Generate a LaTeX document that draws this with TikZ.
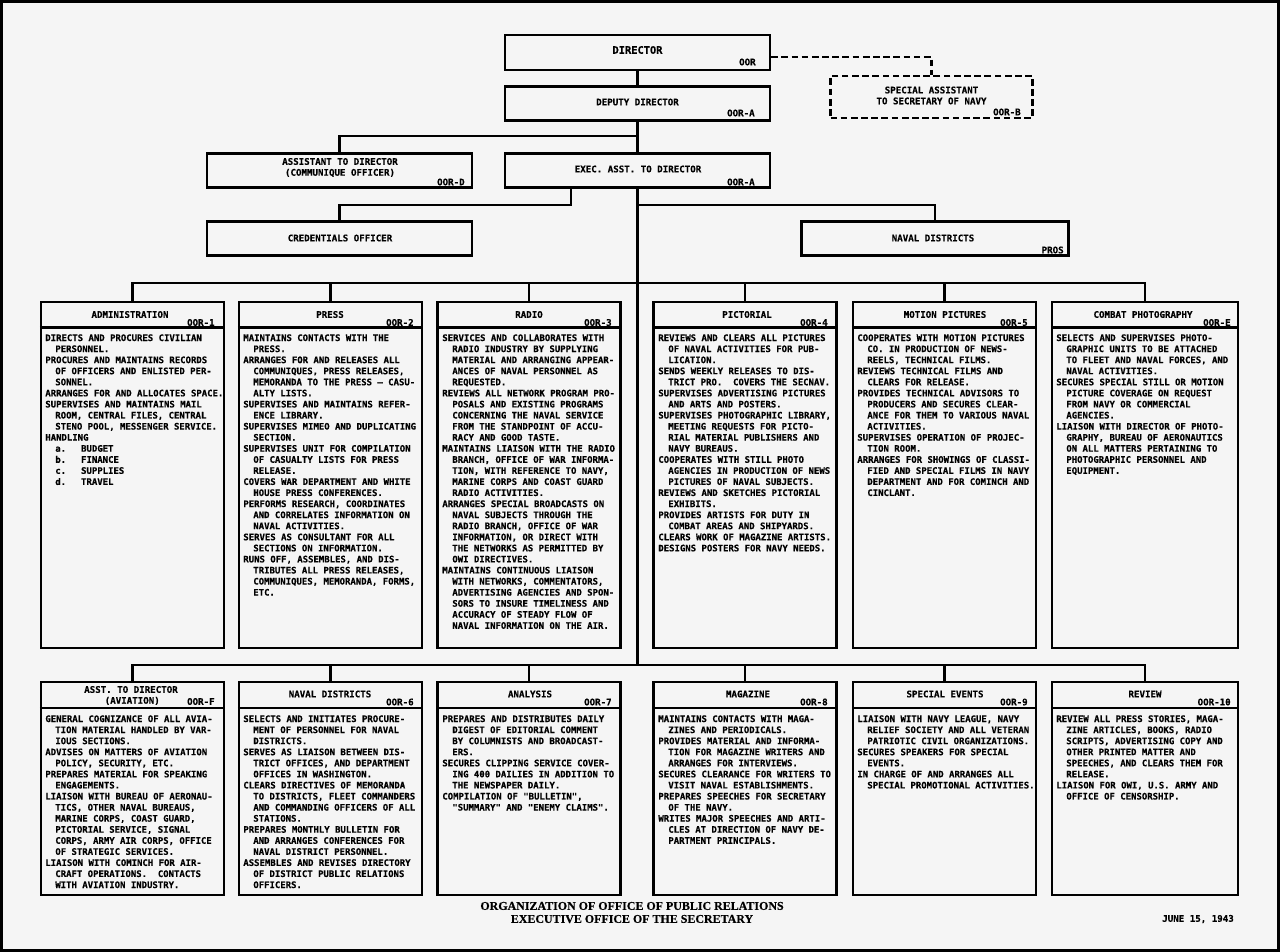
\documentclass[tikz,border=0pt]{standalone}
\usepackage{fontspec}
\usetikzlibrary{arrows.meta}
\newfontfamily\letterfont{DejaVu Sans Mono}[BoldFeatures={FakeBold=0.4}]
\newfontfamily\captfont{Liberation Serif}[BoldFeatures={FakeBold=0.5}]
\newcommand{\bodyfont}{\letterfont\bfseries\fontsize{5.1}{6.3}\selectfont}
\newcommand{\headfont}{\letterfont\bfseries\fontsize{5.2}{6.2}\selectfont}
\newcommand{\bigheadfont}{\letterfont\bfseries\fontsize{5.9}{7}\selectfont}
\newcommand{\contline}{\hspace*{0.2cm}}
\definecolor{paper}{RGB}{245,245,245}

\begin{document}
\begin{tikzpicture}[x=0.02cm,y=-0.02cm,line join=miter,
  unit/.style={draw,line width=1.3pt,inner sep=0pt},
  section/.style={unit,minimum width=3.66cm,minimum height=6.92cm},
  lowsection/.style={unit,minimum width=3.66cm,minimum height=4.26cm},
  topbox/.style={unit,minimum width=5.3cm,minimum height=0.68cm},
  conn/.style={line width=1.3pt},
  dconn/.style={line width=1.3pt,dash pattern=on 3.8pt off 2pt},
  head/.style={font=\headfont,inner sep=0pt,align=center},
  code/.style={font=\headfont,inner sep=0pt,anchor=east},
  body/.style={font=\bodyfont,inner sep=0pt,anchor=north west,align=left}]
%%
\useasboundingbox (0,0) rectangle (1280,952);
\fill[paper] (0,0) rectangle (1280,952);
\draw[line width=0.06cm] (1.5,1.5) rectangle (1278.5,950.5);
%
\node (node_director) at (637.5,52.5) [unit,minimum width=5.3cm,minimum height=0.7cm] {};
\node (title_director) at (637.5,50) [head,font=\bigheadfont] {DIRECTOR};
\node (code_director) at (756,62) [code] {OOR};
\node (node_deputy) at (637.5,103.5) [topbox] {};
\node (title_deputy) at (637.5,102) [head] {DEPUTY DIRECTOR};
\node (code_deputy) at (755,113) [code] {OOR-A};
\node (node_special) at (931.5,97) [unit,dash pattern=on 3.8pt off 2pt,minimum width=4.04cm,minimum height=0.84cm] {};
\node (title_special) at (931.5,95.5) [head] {SPECIAL ASSISTANT\\TO SECRETARY OF NAVY};
\node (code_special) at (1021,112) [code] {OOR-B};
\node (node_asst) at (339.5,170.5) [topbox] {};
\node (title_asst) at (340,167.5) [head] {ASSISTANT TO DIRECTOR\\(COMMUNIQUE OFFICER)};
\node (code_asst) at (465,182) [code] {OOR-D};
\node (node_exec) at (637.5,170.5) [topbox] {};
\node (title_exec) at (638,169) [head] {EXEC. ASST. TO DIRECTOR};
\node (code_exec) at (755,182) [code] {OOR-A};
\node (node_cred) at (339.5,238.5) [topbox] {};
\node (title_cred) at (340,238) [head] {CREDENTIALS OFFICER};
\node (node_pros) at (935,238.5) [topbox,minimum width=5.34cm] {};
\node (title_pros) at (933,238) [head] {NAVAL DISTRICTS};
\node (code_pros) at (1064,250) [code] {PROS};
%
\coordinate (j_deputy) at (637.5,136);
\coordinate (j_cred) at (571,205);
\coordinate (j_pros) at (637.5,205);
\coordinate (bus_top) at (637.5,283);
\coordinate (bus_bottom) at (637.5,665);
\draw [dconn] (node_director.east |- 0,57) -| (node_special.north);
\draw [conn] (node_director) -- (node_deputy);
\draw [conn] (node_deputy) -- (node_exec);
\draw [conn] (node_asst.north) |- (j_deputy);
\draw [conn] (node_exec.south -| j_cred) -- (j_cred) -| (node_cred.north);
\draw [conn] (j_pros) -| (node_pros.north);
\draw [conn] (node_exec.south) -- (bus_bottom);
%
\node (node_admin) at (132.5,475) [section] {};
\node (node_press) at (330.5,475) [section] {};
\node (node_radio) at (529,475) [section] {};
\node (node_pict) at (745,475) [section] {};
\node (node_motion) at (944.5,475) [section] {};
\node (node_combat) at (1145,475) [section,minimum width=3.72cm] {};
\draw [conn] (node_admin.north) |- (bus_top);
\draw [conn] (node_press.north) |- (bus_top);
\draw [conn] (node_radio.north) |- (bus_top);
\draw [conn] (node_pict.north) |- (bus_top);
\draw [conn] (node_motion.north) |- (bus_top);
\draw [conn] (node_combat.north) |- (bus_top);
\draw [conn] (node_admin.west |- 0,327.5) -- (node_admin.east |- 0,327.5);
\draw [conn] (node_press.west |- 0,327.5) -- (node_press.east |- 0,327.5);
\draw [conn] (node_radio.west |- 0,327.5) -- (node_radio.east |- 0,327.5);
\draw [conn] (node_pict.west |- 0,327.5) -- (node_pict.east |- 0,327.5);
\draw [conn] (node_motion.west |- 0,327.5) -- (node_motion.east |- 0,327.5);
\draw [conn] (node_combat.west |- 0,327.5) -- (node_combat.east |- 0,327.5);
%
\node (title_admin) at (130,314.5) [head] {ADMINISTRATION};
\node (code_admin) at (215,322.5) [code] {OOR-1};
\node (body_admin) at (45,334) [body] {DIRECTS AND PROCURES CIVILIAN\\
\contline PERSONNEL.\\
PROCURES AND MAINTAINS RECORDS\\
\contline OF OFFICERS AND ENLISTED PER-\\
\contline SONNEL.\\
ARRANGES FOR AND ALLOCATES SPACE.\\
SUPERVISES AND MAINTAINS MAIL\\
\contline ROOM, CENTRAL FILES, CENTRAL\\
\contline STENO POOL, MESSENGER SERVICE.\\
HANDLING\\
\contline a.\hspace*{0.3cm}BUDGET\\
\contline b.\hspace*{0.3cm}FINANCE\\
\contline c.\hspace*{0.3cm}SUPPLIES\\
\contline d.\hspace*{0.3cm}TRAVEL};
\node (title_press) at (330,314.5) [head] {PRESS};
\node (code_press) at (414,322.5) [code] {OOR-2};
\node (body_press) at (243,334) [body] {MAINTAINS CONTACTS WITH THE\\
\contline PRESS.\\
ARRANGES FOR AND RELEASES ALL\\
\contline COMMUNIQUES, PRESS RELEASES,\\
\contline MEMORANDA TO THE PRESS \textendash{} CASU-\\
\contline ALTY LISTS.\\
SUPERVISES AND MAINTAINS REFER-\\
\contline ENCE LIBRARY.\\
SUPERVISES MIMEO AND DUPLICATING\\
\contline SECTION.\\
SUPERVISES UNIT FOR COMPILATION\\
\contline OF CASUALTY LISTS FOR PRESS\\
\contline RELEASE.\\
COVERS WAR DEPARTMENT AND WHITE\\
\contline HOUSE PRESS CONFERENCES.\\
PERFORMS RESEARCH, COORDINATES\\
\contline AND CORRELATES INFORMATION ON\\
\contline NAVAL ACTIVITIES.\\
SERVES AS CONSULTANT FOR ALL\\
\contline SECTIONS ON INFORMATION.\\
RUNS OFF, ASSEMBLES, AND DIS-\\
\contline TRIBUTES ALL PRESS RELEASES,\\
\contline COMMUNIQUES, MEMORANDA, FORMS,\\
\contline ETC.};
\node (title_radio) at (529,314.5) [head] {RADIO};
\node (code_radio) at (612,322.5) [code] {OOR-3};
\node (body_radio) at (442,334) [body] {SERVICES AND COLLABORATES WITH\\
\contline RADIO INDUSTRY BY SUPPLYING\\
\contline MATERIAL AND ARRANGING APPEAR-\\
\contline ANCES OF NAVAL PERSONNEL AS\\
\contline REQUESTED.\\
REVIEWS ALL NETWORK PROGRAM PRO-\\
\contline POSALS AND EXISTING PROGRAMS\\
\contline CONCERNING THE NAVAL SERVICE\\
\contline FROM THE STANDPOINT OF ACCU-\\
\contline RACY AND GOOD TASTE.\\
MAINTAINS LIAISON WITH THE RADIO\\
\contline BRANCH, OFFICE OF WAR INFORMA-\\
\contline TION, WITH REFERENCE TO NAVY,\\
\contline MARINE CORPS AND COAST GUARD\\
\contline RADIO ACTIVITIES.\\
ARRANGES SPECIAL BROADCASTS ON\\
\contline NAVAL SUBJECTS THROUGH THE\\
\contline RADIO BRANCH, OFFICE OF WAR\\
\contline INFORMATION, OR DIRECT WITH\\
\contline THE NETWORKS AS PERMITTED BY\\
\contline OWI DIRECTIVES.\\
MAINTAINS CONTINUOUS LIAISON\\
\contline WITH NETWORKS, COMMENTATORS,\\
\contline ADVERTISING AGENCIES AND SPON-\\
\contline SORS TO INSURE TIMELINESS AND\\
\contline ACCURACY OF STEADY FLOW OF\\
\contline NAVAL INFORMATION ON THE AIR.};
\node (title_pict) at (747,314.5) [head] {PICTORIAL};
\node (code_pict) at (828,322.5) [code] {OOR-4};
\node (body_pict) at (658,334) [body] {REVIEWS AND CLEARS ALL PICTURES\\
\contline OF NAVAL ACTIVITIES FOR PUB-\\
\contline LICATION.\\
SENDS WEEKLY RELEASES TO DIS-\\
\contline TRICT PRO.\ \ COVERS THE SECNAV.\\
SUPERVISES ADVERTISING PICTURES\\
\contline AND ARTS AND POSTERS.\\
SUPERVISES PHOTOGRAPHIC LIBRARY,\\
\contline MEETING REQUESTS FOR PICTO-\\
\contline RIAL MATERIAL PUBLISHERS AND\\
\contline NAVY BUREAUS.\\
COOPERATES WITH STILL PHOTO\\
\contline AGENCIES IN PRODUCTION OF NEWS\\
\contline PICTURES OF NAVAL SUBJECTS.\\
REVIEWS AND SKETCHES PICTORIAL\\
\contline EXHIBITS.\\
PROVIDES ARTISTS FOR DUTY IN\\
\contline COMBAT AREAS AND SHIPYARDS.\\
CLEARS WORK OF MAGAZINE ARTISTS.\\
DESIGNS POSTERS FOR NAVY NEEDS.};
\node (title_motion) at (945,314.5) [head] {MOTION PICTURES};
\node (code_motion) at (1028,322.5) [code] {OOR-5};
\node (body_motion) at (857,334) [body] {COOPERATES WITH MOTION PICTURES\\
\contline CO. IN PRODUCTION OF NEWS-\\
\contline REELS, TECHNICAL FILMS.\\
REVIEWS TECHNICAL FILMS AND\\
\contline CLEARS FOR RELEASE.\\
PROVIDES TECHNICAL ADVISORS TO\\
\contline PRODUCERS AND SECURES CLEAR-\\
\contline ANCE FOR THEM TO VARIOUS NAVAL\\
\contline ACTIVITIES.\\
SUPERVISES OPERATION OF PROJEC-\\
\contline TION ROOM.\\
ARRANGES FOR SHOWINGS OF CLASSI-\\
\contline FIED AND SPECIAL FILMS IN NAVY\\
\contline DEPARTMENT AND FOR COMINCH AND\\
\contline CINCLANT.};
\node (title_combat) at (1143,314.5) [head] {COMBAT PHOTOGRAPHY};
\node (code_combat) at (1231,322.5) [code] {OOR-E};
\node (body_combat) at (1056,334) [body] {SELECTS AND SUPERVISES PHOTO-\\
\contline GRAPHIC UNITS TO BE ATTACHED\\
\contline TO FLEET AND NAVAL FORCES, AND\\
\contline NAVAL ACTIVITIES.\\
SECURES SPECIAL STILL OR MOTION\\
\contline PICTURE COVERAGE ON REQUEST\\
\contline FROM NAVY OR COMMERCIAL\\
\contline AGENCIES.\\
LIAISON WITH DIRECTOR OF PHOTO-\\
\contline GRAPHY, BUREAU OF AERONAUTICS\\
\contline ON ALL MATTERS PERTAINING TO\\
\contline PHOTOGRAPHIC PERSONNEL AND\\
\contline EQUIPMENT.};
%
\node (node_aviation) at (132.5,788.5) [lowsection] {};
\node (node_districts) at (330.5,788.5) [lowsection] {};
\node (node_analysis) at (529,788.5) [lowsection] {};
\node (node_magazine) at (745,788.5) [lowsection] {};
\node (node_events) at (944.5,788.5) [lowsection] {};
\node (node_review) at (1145,788.5) [lowsection,minimum width=3.72cm] {};
\draw [conn] (node_aviation.north) |- (bus_bottom);
\draw [conn] (node_districts.north) |- (bus_bottom);
\draw [conn] (node_analysis.north) |- (bus_bottom);
\draw [conn] (node_magazine.north) |- (bus_bottom);
\draw [conn] (node_events.north) |- (bus_bottom);
\draw [conn] (node_review.north) |- (bus_bottom);
\draw [conn] (node_aviation.west |- 0,708) -- (node_aviation.east |- 0,708);
\draw [conn] (node_districts.west |- 0,708) -- (node_districts.east |- 0,708);
\draw [conn] (node_analysis.west |- 0,708) -- (node_analysis.east |- 0,708);
\draw [conn] (node_magazine.west |- 0,708) -- (node_magazine.east |- 0,708);
\draw [conn] (node_events.west |- 0,708) -- (node_events.east |- 0,708);
\draw [conn] (node_review.west |- 0,708) -- (node_review.east |- 0,708);
%
\node (title_aviation) at (131,695.5) [head] {ASST. TO DIRECTOR\\\hspace*{0.05cm}(AVIATION)};
\node (code_aviation) at (215,701.5) [code] {OOR-F};
\node (body_aviation) at (45,715) [body] {GENERAL COGNIZANCE OF ALL AVIA-\\
\contline TION MATERIAL HANDLED BY VAR-\\
\contline IOUS SECTIONS.\\
ADVISES ON MATTERS OF AVIATION\\
\contline POLICY, SECURITY, ETC.\\
PREPARES MATERIAL FOR SPEAKING\\
\contline ENGAGEMENTS.\\
LIAISON WITH BUREAU OF AERONAU-\\
\contline TICS, OTHER NAVAL BUREAUS,\\
\contline MARINE CORPS, COAST GUARD,\\
\contline PICTORIAL SERVICE, SIGNAL\\
\contline CORPS, ARMY AIR CORPS, OFFICE\\
\contline OF STRATEGIC SERVICES.\\
LIAISON WITH COMINCH FOR AIR-\\
\contline CRAFT OPERATIONS.\ \ CONTACTS\\
\contline WITH AVIATION INDUSTRY.};
\node (title_districts) at (330,694) [head] {NAVAL DISTRICTS};
\node (code_districts) at (414,702) [code] {OOR-6};
\node (body_districts) at (243,715) [body] {SELECTS AND INITIATES PROCURE-\\
\contline MENT OF PERSONNEL FOR NAVAL\\
\contline DISTRICTS.\\
SERVES AS LIAISON BETWEEN DIS-\\
\contline TRICT OFFICES, AND DEPARTMENT\\
\contline OFFICES IN WASHINGTON.\\
CLEARS DIRECTIVES OF MEMORANDA\\
\contline TO DISTRICTS, FLEET COMMANDERS\\
\contline AND COMMANDING OFFICERS OF ALL\\
\contline STATIONS.\\
PREPARES MONTHLY BULLETIN FOR\\
\contline AND ARRANGES CONFERENCES FOR\\
\contline NAVAL DISTRICT PERSONNEL.\\
ASSEMBLES AND REVISES DIRECTORY\\
\contline OF DISTRICT PUBLIC RELATIONS\\
\contline OFFICERS.};
\node (title_analysis) at (530,694) [head] {ANALYSIS};
\node (code_analysis) at (612,702) [code] {OOR-7};
\node (body_analysis) at (442,715) [body] {PREPARES AND DISTRIBUTES DAILY\\
\contline DIGEST OF EDITORIAL COMMENT\\
\contline BY COLUMNISTS AND BROADCAST-\\
\contline ERS.\\
SECURES CLIPPING SERVICE COVER-\\
\contline ING 400 DAILIES IN ADDITION TO\\
\contline THE NEWSPAPER DAILY.\\
COMPILATION OF "BULLETIN",\\
\contline "SUMMARY" AND "ENEMY CLAIMS".};
\node (title_magazine) at (748,694) [head] {MAGAZINE};
\node (code_magazine) at (828,702) [code] {OOR-8};
\node (body_magazine) at (658,715) [body] {MAINTAINS CONTACTS WITH MAGA-\\
\contline ZINES AND PERIODICALS.\\
PROVIDES MATERIAL AND INFORMA-\\
\contline TION FOR MAGAZINE WRITERS AND\\
\contline ARRANGES FOR INTERVIEWS.\\
SECURES CLEARANCE FOR WRITERS TO\\
\contline VISIT NAVAL ESTABLISHMENTS.\\
PREPARES SPEECHES FOR SECRETARY\\
\contline OF THE NAVY.\\
WRITES MAJOR SPEECHES AND ARTI-\\
\contline CLES AT DIRECTION OF NAVY DE-\\
\contline PARTMENT PRINCIPALS.};
\node (title_events) at (945,694) [head] {SPECIAL EVENTS};
\node (code_events) at (1028,702) [code] {OOR-9};
\node (body_events) at (857,715) [body] {LIAISON WITH NAVY LEAGUE, NAVY\\
\contline RELIEF SOCIETY AND ALL VETERAN\\
\contline PATRIOTIC CIVIL ORGANIZATIONS.\\
SECURES SPEAKERS FOR SPECIAL\\
\contline EVENTS.\\
IN CHARGE OF AND ARRANGES ALL\\
\contline SPECIAL PROMOTIONAL ACTIVITIES.};
\node (title_review) at (1145,694) [head] {REVIEW};
\node (code_review) at (1231,702) [code] {OOR-10};
\node (body_review) at (1056,715) [body] {REVIEW ALL PRESS STORIES, MAGA-\\
\contline ZINE ARTICLES, BOOKS, RADIO\\
\contline SCRIPTS, ADVERTISING COPY AND\\
\contline OTHER PRINTED MATTER AND\\
\contline SPEECHES, AND CLEARS THEM FOR\\
\contline RELEASE.\\
LIAISON FOR OWI, U.S. ARMY AND\\
\contline OFFICE OF CENSORSHIP.};
%
\node (caption) at (632,912.5) [font=\captfont\bfseries\fontsize{6.8}{7.4}\selectfont,align=center,inner sep=0pt] {ORGANIZATION OF OFFICE OF PUBLIC RELATIONS\\EXECUTIVE OFFICE OF THE SECRETARY};
\node (date) at (1198,919) [head] {JUNE 15, 1943};
%
\end{tikzpicture}
\end{document}
